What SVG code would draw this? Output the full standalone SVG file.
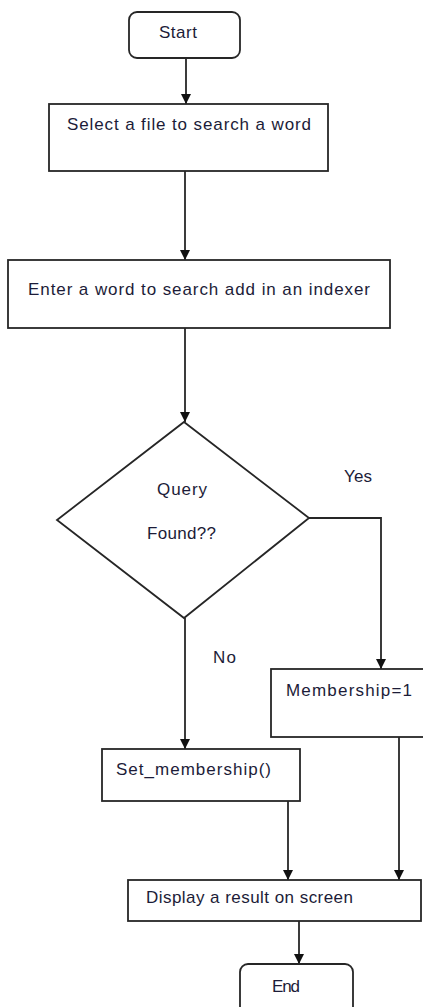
<svg xmlns="http://www.w3.org/2000/svg" width="423" height="1007" viewBox="0 0 423 1007">
<style>
.box{fill:#fff;stroke:#262626;stroke-width:1.8}
.ln{fill:none;stroke:#262626;stroke-width:1.8}
text{font-family:"Liberation Sans",Arial,sans-serif;font-size:17px;fill:#1c1c38}
.c{text-anchor:middle}
</style>
<defs>
<marker id="ah" viewBox="0 0 10 10" refX="10" refY="5" markerWidth="10" markerHeight="10" markerUnits="userSpaceOnUse" orient="auto">
<path d="M0,0 L10,5 L0,10 Z" fill="#111"/>
</marker>
</defs>
<rect width="423" height="1007" fill="#fff"/>
<g id="connectors">
<path class="ln" d="M186,58 V104" marker-end="url(#ah)"/>
<path class="ln" d="M185,171 V260" marker-end="url(#ah)"/>
<path class="ln" d="M185,328 V422" marker-end="url(#ah)"/>
<path class="ln" d="M309,518 H381 V669" marker-end="url(#ah)"/>
<path class="ln" d="M185,618 V749" marker-end="url(#ah)"/>
<path class="ln" d="M288,801 V880" marker-end="url(#ah)"/>
<path class="ln" d="M399,737 V880" marker-end="url(#ah)"/>
<path class="ln" d="M299,921 V964" marker-end="url(#ah)"/>
<text x="358" y="482" class="c" textLength="28">Yes</text>
<text x="213" y="663" textLength="23">No</text>
</g>
<g id="start">
<rect class="box" x="129" y="12" width="111" height="46" rx="8"/>
<text x="178" y="38" class="c" textLength="38">Start</text>
</g>
<g id="select">
<rect class="box" x="49" y="104" width="279" height="67"/>
<text x="189" y="130" class="c" textLength="244">Select a file to search a word</text>
</g>
<g id="enter">
<rect class="box" x="8" y="260" width="382" height="68"/>
<text x="199" y="295" class="c" textLength="342">Enter a word to search add in an indexer</text>
</g>
<g id="decision">
<path class="box" d="M184,422 L309,518 L184,618 L57,520 Z"/>
<text x="182" y="495" class="c" textLength="50">Query</text>
<text x="181.5" y="539" class="c" textLength="69">Found??</text>
</g>
<g id="membership">
<rect class="box" x="271" y="669" width="170" height="68"/>
<text x="286" y="696" textLength="126">Membership=1</text>
</g>
<g id="setmembership">
<rect class="box" x="102" y="749" width="198" height="52"/>
<text x="116" y="775" textLength="155">Set_membership()</text>
</g>
<g id="display">
<rect class="box" x="128" y="880" width="293" height="41"/>
<text x="146" y="903" textLength="207">Display a result on screen</text>
</g>
<g id="end">
<rect class="box" x="240" y="964" width="113" height="60" rx="8"/>
<text x="286" y="992" class="c" textLength="28">End</text>
</g>
</svg>
